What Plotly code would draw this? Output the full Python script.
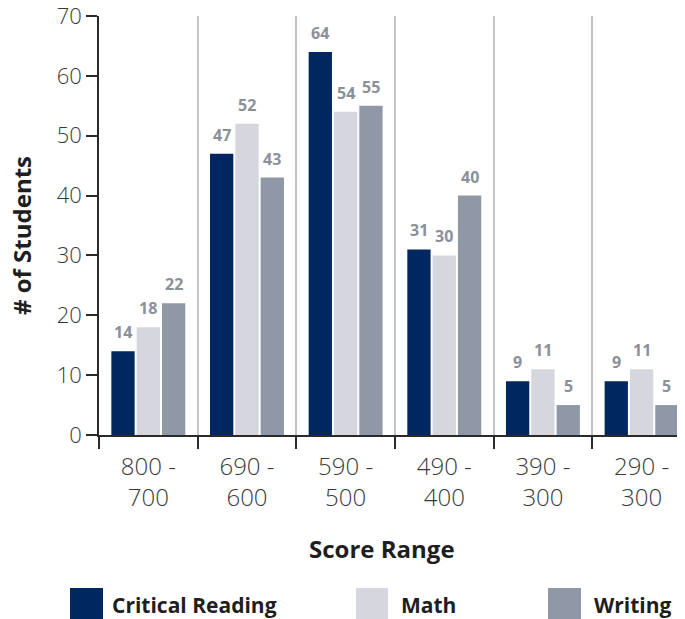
import plotly.graph_objects as go

categories = ["800 -<br>700", "690 -<br>600", "590 -<br>500", "490 -<br>400", "390 -<br>300", "290 -<br>300"]
series_names = ["Critical Reading", "Math", "Writing"]
critical_reading = [14, 47, 64, 31, 9, 9]
math_scores = [18, 52, 54, 30, 11, 11]
writing = [22, 43, 55, 40, 5, 5]
colors = ["#00275f", "#d6d6de", "#9097a7"]
y_ticks = [0, 10, 20, 30, 40, 50, 60, 70]

series = [critical_reading, math_scores, writing]

OFF = 8  # page body margin
W, H = 685 - OFF, 619 - OFF
ML, MT = 99 - OFF, 16 - OFF
PW, PH = 685 - 99, 435 - 16
MR = W - ML - PW
MB = H - MT - PH


def px(x):
    return (x - OFF - ML) / PW


def py(y):
    return (MT + PH - (y - OFF)) / PH


BARGAP = 0.23
BARGROUPGAP = 0.08
FONT = "Open Sans"

fig = go.Figure()
for name, vals, col in zip(series_names, series, colors):
    fig.add_trace(go.Bar(
        x=categories, y=vals, name=name, marker=dict(color=col, line=dict(width=0)),
        showlegend=False, hoverinfo="x+y+name",
    ))

annotations = []
slot = (1 - BARGAP) / len(series)
for k, vals in enumerate(series):
    for i, v in enumerate(vals):
        annotations.append(dict(
            x=i + (k - (len(series) - 1) / 2) * slot, y=v, xref="x", yref="y",
            text=str(v), showarrow=False, yanchor="bottom", yshift=6,
            font=dict(family=FONT, size=16, color="#8b9099", weight="bold"),
        ))

# axis titles
annotations.append(dict(
    x=px(21), y=py(236), xref="paper", yref="paper", text="# of Students",
    textangle=-90, showarrow=False, xanchor="center", yanchor="middle",
    font=dict(family=FONT, size=24, color="#1e1e1e", weight="bold"),
))
annotations.append(dict(
    x=px(382), y=py(548), xref="paper", yref="paper", text="Score Range",
    showarrow=False, xanchor="center", yanchor="middle",
    font=dict(family=FONT, size=24, color="#1e1e1e", weight="bold"),
))

# legend
legend_pos = [(70, 103, 110), (356, 388, 399), (548, 581, 592)]
shapes = []
for (x0, x1, tx), name, col in zip(legend_pos, series_names, colors):
    shapes.append(dict(type="rect", xref="paper", yref="paper",
                       x0=px(x0), x1=px(x1), y0=py(619), y1=py(588),
                       fillcolor=col, line=dict(width=0)))
    annotations.append(dict(
        x=px(tx), y=py(605), xref="paper", yref="paper", text=name,
        showarrow=False, xanchor="left", yanchor="middle",
        font=dict(family=FONT, size=21, color="#1e1e1e", weight="bold"),
    ))

fig.update_layout(
    width=W, height=H,
    margin=dict(l=ML, r=MR, t=MT, b=MB, autoexpand=False),
    paper_bgcolor="white", plot_bgcolor="white",
    barmode="group", bargap=BARGAP, bargroupgap=BARGROUPGAP,
    annotations=annotations, shapes=shapes, showlegend=False,
    xaxis=dict(
        type="category", range=[-0.5, 5.44], tickson="boundaries",
        showgrid=True, gridcolor="#c4c4c4", gridwidth=1.5,
        showline=True, linecolor="#2a2a2a", linewidth=1.5,
        ticks="outside", ticklen=12, tickcolor="#2a2a2a", tickwidth=1.5,
        tickfont=dict(family=FONT, size=24, color="#3a3a3a", weight=300),
        ticklabelstandoff=9,
        zeroline=False, ticklabeloverflow="allow",
    ),
    yaxis=dict(
        range=[0, 70], tickvals=y_ticks, showgrid=False, zeroline=False,
        showline=True, linecolor="#2a2a2a", linewidth=1.5,
        ticks="outside", ticklen=11, tickcolor="#2a2a2a", tickwidth=1.5,
        tickfont=dict(family=FONT, size=22, color="#3a3a3a", weight=300),
        ticklabeloverflow="allow",
    ),
)

fig.write_html("out.html")
